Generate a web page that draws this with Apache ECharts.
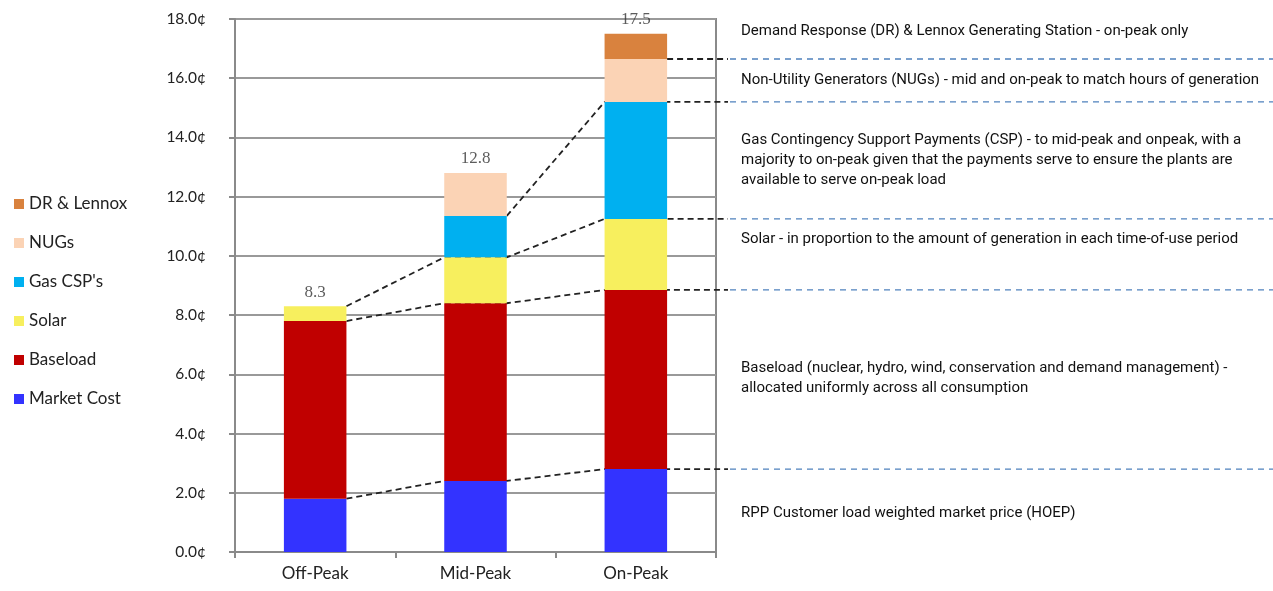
<!DOCTYPE html>
<html>
<head>
<meta charset="utf-8">
<script src="https://cdn.jsdelivr.net/npm/echarts@6/dist/echarts.min.js"></script>
<style>html,body{margin:0;padding:0;background:#fff;}#c{width:1273px;height:591px;}</style>
</head>
<body>
<div id="c"></div>
<script>
const categories = ['Off-Peak', 'Mid-Peak', 'On-Peak'];
const marketCost = [1.8, 2.4, 2.8];
const baseload = [6.0, 6.0, 6.05];
const solar = [0.5, 1.55, 2.4];
const gasCSP = [0, 1.4, 3.95];
const nugs = [0, 1.45, 1.45];
const drLennox = [0, 0, 0.85];
const yMin = 0, yMax = 18, yStep = 2;
const legendOrder = ['DR & Lennox', 'NUGs', "Gas CSP's", 'Solar', 'Baseload', 'Market Cost'];
const notes = [
  {text: 'Demand Response (DR) & Lennox Generating Station - on-peak only', y: 30},
  {text: 'Non-Utility Generators (NUGs) - mid and on-peak to match hours of generation', y: 79},
  {text: 'Gas Contingency Support Payments (CSP) - to mid-peak and onpeak, with a\nmajority to on-peak given that the payments serve to ensure the plants are\navailable to serve on-peak load', y: 139},
  {text: 'Solar - in proportion to the amount of generation in each time-of-use period', y: 238},
  {text: 'Baseload (nuclear, hydro, wind, conservation and demand management) -\nallocated uniformly across all consumption', y: 367},
  {text: 'RPP Customer load weighted market price (HOEP)', y: 512}
];
// connector lines: which stacked layer top, starting from which category
const connectors = [
  {layer: 0, from: 0}, {layer: 1, from: 0}, {layer: 2, from: 0},
  {layer: 3, from: 1}, {layer: 4, from: 2}
];

const layers = [marketCost, baseload, solar, gasCSP, nugs, drLennox];
const layerNames = ['Market Cost', 'Baseload', 'Solar', "Gas CSP's", 'NUGs', 'DR & Lennox'];
const layerColors = ['#3333ff', '#c00000', '#f7ef5e', '#00b0f0', '#fbd3b5', '#d9823e'];
const cum = [];
layers.forEach((arr, i) => {
  cum.push(arr.map((v, k) => (i > 0 ? cum[i - 1][k] : 0) + v));
});
const totals = cum[cum.length - 1];
const barFrac = 0.39;

const chart = echarts.init(document.getElementById('c'));
const barSeries = layers.map((arr, i) => ({
  name: layerNames[i], type: 'bar', stack: 'total', barWidth: (barFrac * 100) + '%',
  data: arr, itemStyle: {color: layerColors[i]}, z: 3, silent: true
}));

const option = {
  animation: false,
  backgroundColor: '#fff',
  grid: {left: 235, right: 557, top: 19, bottom: 39, show: true, borderColor: '#8a8a8a', borderWidth: 2},
  legend: {
    data: legendOrder, orient: 'vertical', left: 9, top: 189, icon: 'rect',
    itemWidth: 10, itemHeight: 10, itemGap: 19, selectedMode: false,
    textStyle: {fontFamily: 'Lato', fontSize: 17, color: '#222', lineHeight: 20}
  },
  xAxis: {
    type: 'category', data: categories,
    axisLine: {lineStyle: {color: '#8a8a8a', width: 2}},
    axisTick: {show: true, length: 6, lineStyle: {color: '#8a8a8a', width: 2}},
    axisLabel: {fontFamily: 'Lato', fontSize: 17, color: '#222', margin: 13}
  },
  yAxis: {
    type: 'value', min: yMin, max: yMax, interval: yStep,
    axisLine: {show: true, lineStyle: {color: '#8a8a8a', width: 2}},
    axisTick: {show: true, length: 6, lineStyle: {color: '#8a8a8a', width: 2}},
    splitLine: {lineStyle: {color: '#999999', width: 2}},
    axisLabel: {fontFamily: 'Lato', fontSize: 15.5, color: '#222', margin: 29,
      formatter: v => v.toFixed(1) + '¢'}
  },
  graphic: notes.map(n => ({
    type: 'text', left: 741, top: n.y - 9, silent: true,
    style: {text: n.text, font: '15px Roboto', fill: '#111', lineHeight: 20}
  })),
  series: barSeries.concat([
    {
      type: 'custom', name: 'connectors', z: 1, silent: true, clip: false,
      data: connectors.map((c, i) => [i, 0]),
      renderItem: function (params, api) {
        const c = connectors[params.dataIndex];
        const half = api.size([1, 0])[0] * barFrac / 2;
        const pts = [];
        let lastY = 0;
        for (let k = c.from; k < categories.length; k++) {
          const p = api.coord([k, cum[c.layer][k]]);
          if (k > c.from) pts.push([p[0] - half, p[1]]);
          pts.push([p[0] + half, p[1]]);
          lastY = p[1];
        }
        pts.push([728, lastY]);
        return {
          type: 'group', children: [
            {type: 'polyline', shape: {points: pts},
              style: {stroke: '#222', lineWidth: 1.8, lineDash: [6, 4], fill: null}},
            {type: 'line', shape: {x1: 730, y1: lastY, x2: api.getWidth(), y2: lastY},
              style: {stroke: '#4f81bd', lineWidth: 1.3, lineDash: [6, 5]}}
          ]
        };
      }
    },
    {
      type: 'scatter', name: 'totals', data: totals, symbolSize: 1,
      itemStyle: {color: 'rgba(0,0,0,0)'}, silent: true, z: 4,
      label: {show: true, position: 'top', distance: 5, formatter: p => p.value.toFixed(1),
        fontFamily: 'Liberation Serif', fontSize: 17, color: '#333'}
    }
  ])
};
chart.setOption(option);
</script>
</body>
</html>
